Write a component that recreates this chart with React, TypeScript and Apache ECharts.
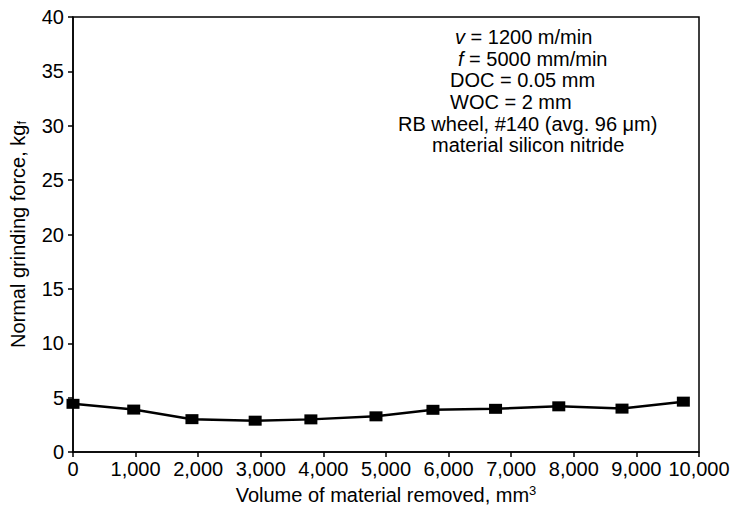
import React, { useEffect, useRef } from "react";
import * as echarts from "echarts";

const volumeRemoved = [0, 970, 1900, 2910, 3800, 4840, 5750, 6750, 7760, 8770, 9750];
const normalForce = [4.43, 3.9, 3.02, 2.88, 3.0, 3.28, 3.88, 3.97, 4.2, 3.99, 4.63];
const annotationLines = [
  "{i|v} = 1200 m/min",
  "{i|f} = 5000 mm/min",
  "DOC = 0.05 mm",
  "WOC = 2 mm",
  "RB wheel, #140 (avg. 96 μm)",
  "material silicon nitride",
];

const FONT = "'Liberation Sans', Arial, Helvetica, sans-serif";

export default function App() {
  const ref = useRef<HTMLDivElement>(null);
  useEffect(() => {
    if (!ref.current) return;
    const chart = echarts.init(ref.current, undefined, { renderer: "svg" });
    const lineX = [455, 458, 450, 450, 398, 432];
    const lineY = [38, 60, 81, 103, 125, 146];
    chart.setOption({
      animation: false,
      backgroundColor: "#fff",
      textStyle: { fontFamily: FONT, color: "#000" },
      grid: {
        left: 73,
        right: 34,
        top: 17,
        bottom: 62,
        show: true,
        borderColor: "#000",
        borderWidth: 1.5,
        containLabel: false,
      },
      xAxis: {
        type: "value",
        min: 0,
        max: 10000,
        interval: 1000,
        splitLine: { show: false },
        axisLine: { lineStyle: { color: "#000", width: 1.5 } },
        axisTick: { show: true, length: 5, lineStyle: { color: "#000", width: 1.5 } },
        axisLabel: {
          color: "#000",
          fontSize: 20,
          fontFamily: FONT,
          margin: 7,
          formatter: (v: number) => v.toLocaleString("en-US"),
        },
        name: "Volume of material removed, mm{sup|3}",
        nameLocation: "middle",
        nameGap: 32,
        nameTextStyle: {
          color: "#000",
          fontSize: 20,
          fontFamily: FONT,
          rich: {
            sup: { fontSize: 13, verticalAlign: "top", padding: [0, 0, 9, 0], color: "#000", fontFamily: FONT },
          },
        },
      },
      yAxis: {
        type: "value",
        min: 0,
        max: 40,
        interval: 5,
        splitLine: { show: false },
        axisLine: { show: true, lineStyle: { color: "#000", width: 1.5 } },
        axisTick: { show: true, length: 5, lineStyle: { color: "#000", width: 1.5 } },
        axisLabel: { color: "#000", fontSize: 20, fontFamily: FONT, margin: 9 },
        name: "Normal grinding force, kg{sub|f}",
        nameLocation: "middle",
        nameGap: 45,
        nameTextStyle: {
          color: "#000",
          fontSize: 20,
          fontFamily: FONT,
          rich: {
            sub: { fontSize: 13, verticalAlign: "bottom", padding: [7, 0, 0, 0], color: "#000", fontFamily: FONT },
          },
        },
      },
      series: [
        {
          type: "line",
          data: volumeRemoved.map((x, i) => [x, normalForce[i]]),
          symbol: "rect",
          symbolSize: [13, 10],
          lineStyle: { color: "#000", width: 2.5 },
          itemStyle: { color: "#000" },
          z: 5,
        },
      ],
      graphic: annotationLines.map((t, i) => ({
        type: "text",
        left: lineX[i],
        top: lineY[i] - 11,
        style: {
          text: t,
          fill: "#000",
          font: `20px ${FONT}`,
          rich: {
            i: { fontStyle: "italic", fontSize: 20, fontFamily: FONT, fill: "#000" },
          },
        },
      })),
    });
    return () => chart.dispose();
  }, []);
  return <div ref={ref} style={{ width: 733, height: 514, position: "absolute", left: 0, top: 0 }} />;
}
